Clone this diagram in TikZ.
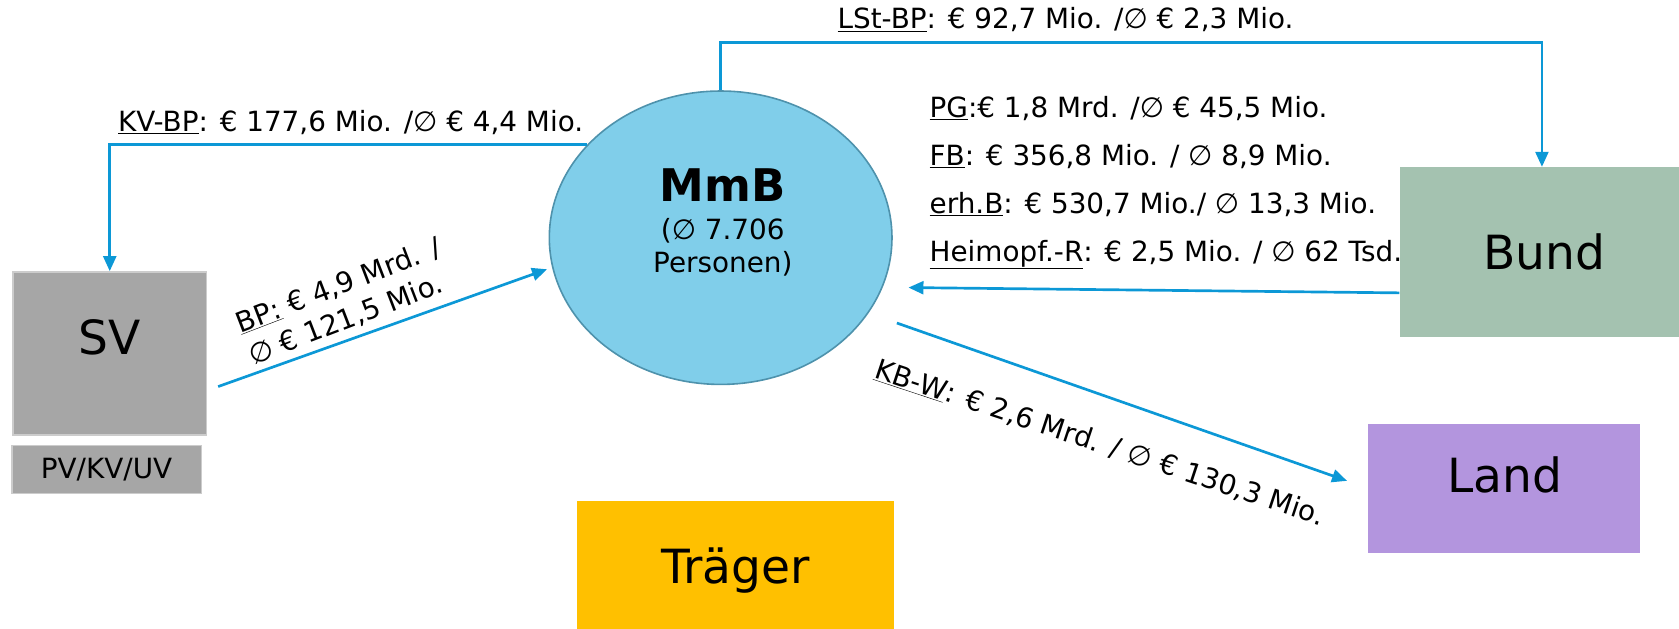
\documentclass[tikz,border=0pt]{standalone}
\usepackage{fontspec}
\setmainfont{DejaVu Sans}
\usetikzlibrary{shapes.geometric,arrows.meta}

\definecolor{flowblue}{RGB}{12,152,214}
\definecolor{mmbfill}{RGB}{128,206,234}
\definecolor{mmbedge}{RGB}{78,146,172}
\definecolor{svgray}{RGB}{166,166,166}
\definecolor{svedge}{RGB}{204,204,204}
\definecolor{bundgreen}{RGB}{164,194,176}
\definecolor{landviolet}{RGB}{179,149,222}
\definecolor{traegergold}{RGB}{255,192,0}

\tikzset{
  box/.style={rectangle, draw=none, inner sep=0pt, font=\fontsize{44}{52}\selectfont},
  flow/.style={draw=flowblue, line width=2.5pt, -{Triangle[length=14pt,width=12pt]}},
  money/.style={inner sep=0pt, font=\fontsize{26}{32}\selectfont}
}

\begin{document}
\begin{tikzpicture}[x=1pt,y=-1pt]
        \useasboundingbox (0,0) rectangle (1568,587);

        % The boxes
        \node[box, draw=svedge, line width=1.5pt, fill=svgray, minimum width=181pt, minimum height=152pt, text depth=30pt] (SV) at (102.5,330) {SV};
        \node[box, draw=svedge, line width=1.5pt, fill=svgray, minimum width=177pt, minimum height=45pt, font=\fontsize{26}{30}\selectfont] (PVKVUV) at (99.5,438.5) {PV/KV/UV};
        \node[box, fill=bundgreen, minimum width=270pt, minimum height=159pt] (Bund) at (1442,235.5) {Bund};
        \node[box, fill=landviolet, minimum width=254pt, minimum height=120pt, text depth=26pt] (Land) at (1405,456) {Land};
        \node[box, fill=traegergold, minimum width=296pt, minimum height=130pt] (Traeger) at (687,533) {Träger};

        % The MmB ellipse
        \node[ellipse, draw=mmbedge, line width=1.5pt, fill=mmbfill, minimum width=320pt, minimum height=274pt, inner sep=0pt] (MmB) at (673,222) {};
        \node[align=center, inner sep=0pt, font=\fontsize{26}{31}\selectfont] (MmBtext) at (675,208) {{\fontsize{42}{44}\selectfont\bfseries MmB}\\[4pt](∅ 7.706\\Personen)};

        % The flows
        \draw[flow] (MmB.north) -- ++(0,-44.5) -| ([xshift=-2pt]Bund.north);
        \draw[flow] (MmB.145) -| (SV.north);
        \draw[flow, shorten >=5pt] ([xshift=10pt,yshift=-31pt]SV.east) -- (MmB.190);
        \draw[flow, shorten >=24pt] ([yshift=-38pt]Bund.west) -- (MmB.-17);
        \draw[flow, shorten <=28pt, shorten >=21pt] (MmB.-27) -- (Land.west);

        % The amounts
        \node[money, anchor=base west] (lstbp) at (782,27) {\underline{LSt-BP}: € 92,7 Mio. /∅ € 2,3 Mio.};
        \node[money, anchor=base west] (kvbp) at (110,123) {\underline{KV-BP}: € 177,6 Mio. /∅ € 4,4 Mio.};
        \node[money, anchor=base west] (pg) at (868,110) {\underline{PG}:€ 1,8 Mrd. /∅ € 45,5 Mio.};
        \node[money, anchor=base west] (fb) at (868,155) {\underline{FB}: € 356,8 Mio. / ∅ 8,9 Mio.};
        \node[money, anchor=base west] (erhb) at (868,199) {\underline{erh.B}: € 530,7 Mio./ ∅ 13,3 Mio.};
        \node[money, anchor=base west] (heim) at (868,244) {\underline{Heimopf.-R}: € 2,5 Mio. / ∅ 62 Tsd.};
        \node[money, align=left, rotate=21] (bp) at (322,282) {\underline{BP:} € 4,9 Mrd. /\\∅ € 121,5 Mio.};
        \node[money, rotate=-18.3] (kbw) at (1027,414) {\underline{KB-W}: € 2,6 Mrd. / ∅ € 130,3 Mio.};
    \end{tikzpicture}
\end{document}
